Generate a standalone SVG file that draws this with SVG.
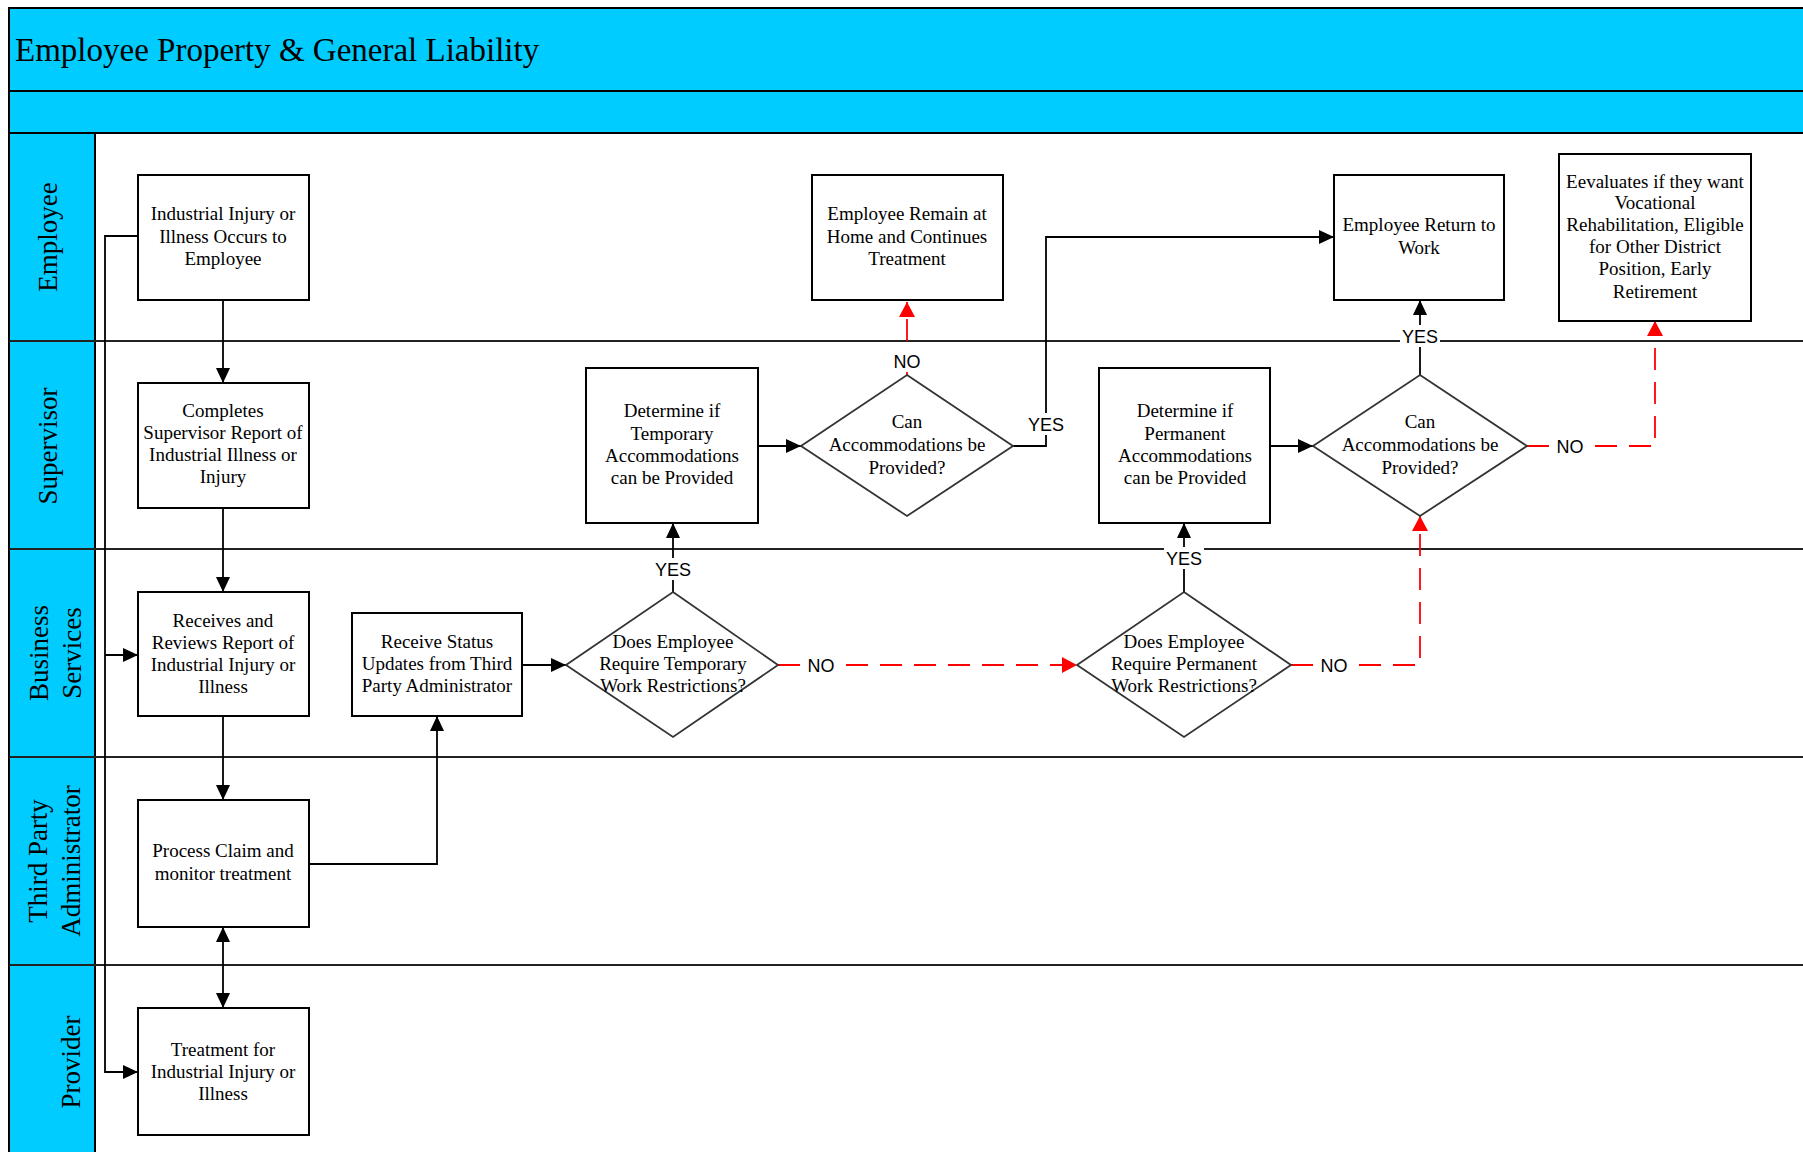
<svg xmlns="http://www.w3.org/2000/svg" width="1803" height="1152" viewBox="0 0 1803 1152">
  <style>
    .band { fill: #00CCFF; stroke: #000; stroke-width: 2; }
    .lane { stroke: #222; stroke-width: 2; fill: none; }
    .box { fill: #fff; stroke: #000; stroke-width: 2; }
    .dec { fill: #fff; stroke: #333; stroke-width: 1.8; }
    .t { font-family: "Liberation Serif", "Times New Roman", serif; font-size: 19px; fill: #000; text-anchor: middle; }
    .title { font-family: "Liberation Serif", "Times New Roman", serif; font-size: 33px; fill: #000; }
    .lanelbl { font-family: "Liberation Serif", "Times New Roman", serif; font-size: 27px; fill: #000; text-anchor: middle; }
    .flow { stroke: #000; stroke-width: 1.8; fill: none; }
    .neg { stroke: #FF0000; stroke-width: 1.8; fill: none; stroke-dasharray: 22 12; }
    .lbl { font-family: "Liberation Sans", Arial, sans-serif; font-size: 18px; fill: #000; text-anchor: middle; }
    .lblbg { fill: #fff; }
  </style>
  <defs>
    <marker id="arr" viewBox="0 0 15 14" refX="15" refY="7" markerWidth="15" markerHeight="14" markerUnits="userSpaceOnUse" orient="auto-start-reverse">
      <path d="M0,0 L15,7 L0,14 Z" fill="#000"/>
    </marker>
    <marker id="arrR" viewBox="0 0 15 16" refX="15" refY="8" markerWidth="15" markerHeight="16" markerUnits="userSpaceOnUse" orient="auto">
      <path d="M0,0 L15,8 L0,16 Z" fill="#FF0000"/>
    </marker>
  </defs>

  <rect width="1803" height="1152" fill="#fff"/>

  <!-- pool header bands -->
  <g id="pool">
    <rect class="band" x="9" y="8" width="1800" height="83"/>
    <rect class="band" x="9" y="91" width="1800" height="42"/>
    <text class="title" x="15" y="61">Employee Property &amp; General Liability</text>
  </g>

  <!-- swimlanes -->
  <g id="lanes">
    <rect class="band" x="9" y="133" width="86" height="1040"/>
    <line class="lane" x1="9" y1="341" x2="1803" y2="341"/>
    <line class="lane" x1="9" y1="549" x2="1803" y2="549"/>
    <line class="lane" x1="9" y1="757" x2="1803" y2="757"/>
    <line class="lane" x1="9" y1="965" x2="1803" y2="965"/>
    <text class="lanelbl" transform="translate(57,237) rotate(-90)">Employee</text>
    <text class="lanelbl" transform="translate(57,446) rotate(-90)">Supervisor</text>
    <text class="lanelbl" transform="translate(48,653) rotate(-90)">Business</text>
    <text class="lanelbl" transform="translate(81,653) rotate(-90)">Services</text>
    <text class="lanelbl" transform="translate(47,861) rotate(-90)">Third Party</text>
    <text class="lanelbl" transform="translate(80,861) rotate(-90)">Administrator</text>
    <text class="lanelbl" transform="translate(80,1062) rotate(-90)">Provider</text>
  </g>

  <!-- connectors -->
  <g id="connectors">
    <path class="flow" d="M223,300 V383" marker-end="url(#arr)"/>
    <path class="flow" d="M223,508 V592" marker-end="url(#arr)"/>
    <path class="flow" d="M223,716 V800" marker-end="url(#arr)"/>
    <path class="flow" d="M223,927 V1008" marker-start="url(#arr)" marker-end="url(#arr)"/>
    <path class="flow" d="M138,236 H105 V1072 H138" marker-end="url(#arr)"/>
    <path class="flow" d="M105,655 H138" marker-end="url(#arr)"/>
    <path class="flow" d="M309,864 H437 V716" marker-end="url(#arr)"/>
    <path class="flow" d="M522,665 H566" marker-end="url(#arr)"/>
    <path class="flow" d="M673,592 V523" marker-end="url(#arr)"/>
    <path class="flow" d="M758,446 H801" marker-end="url(#arr)"/>
    <path class="flow" d="M1013,446 H1046 V237 H1334" marker-end="url(#arr)"/>
    <path class="flow" d="M1184,592 V523" marker-end="url(#arr)"/>
    <path class="flow" d="M1270,446 H1313" marker-end="url(#arr)"/>
    <path class="flow" d="M1420,375 V300" marker-end="url(#arr)"/>
    <path class="neg" d="M907,375 V302" marker-end="url(#arrR)"/>
    <path class="neg" d="M778,665 H1077" marker-end="url(#arrR)"/>
    <path class="neg" d="M1291,665 H1420 V516" marker-end="url(#arrR)"/>
    <path class="neg" d="M1527,446 H1655 V321" marker-end="url(#arrR)"/>

    <rect class="lblbg" x="888" y="350" width="38" height="22"/>
    <text class="lbl" x="907" y="368">NO</text>
    <rect class="lblbg" x="1026" y="413" width="40" height="22"/>
    <text class="lbl" x="1046" y="431">YES</text>
    <rect class="lblbg" x="653" y="558" width="40" height="22"/>
    <text class="lbl" x="673" y="576">YES</text>
    <rect class="lblbg" x="802" y="654" width="38" height="22"/>
    <text class="lbl" x="821" y="672">NO</text>
    <rect class="lblbg" x="1164" y="547" width="40" height="22"/>
    <text class="lbl" x="1184" y="565">YES</text>
    <rect class="lblbg" x="1315" y="654" width="38" height="22"/>
    <text class="lbl" x="1334" y="672">NO</text>
    <rect class="lblbg" x="1400" y="325" width="40" height="22"/>
    <text class="lbl" x="1420" y="343">YES</text>
    <rect class="lblbg" x="1551" y="435" width="38" height="22"/>
    <text class="lbl" x="1570" y="453">NO</text>
  </g>

  <!-- process nodes -->
  <g id="n-injury">
    <rect class="box" x="138" y="175" width="171" height="125"/>
    <text class="t" x="223" y="220">Industrial Injury or</text>
    <text class="t" x="223" y="243">Illness Occurs to</text>
    <text class="t" x="223" y="265">Employee</text>
  </g>
  <g id="n-supervisor-report">
    <rect class="box" x="138" y="383" width="171" height="125"/>
    <text class="t" x="223" y="417">Completes</text>
    <text class="t" x="223" y="439">Supervisor Report of</text>
    <text class="t" x="223" y="461">Industrial Illness or</text>
    <text class="t" x="223" y="483">Injury</text>
  </g>
  <g id="n-review">
    <rect class="box" x="138" y="592" width="171" height="124"/>
    <text class="t" x="223" y="627">Receives and</text>
    <text class="t" x="223" y="649">Reviews Report of</text>
    <text class="t" x="223" y="671">Industrial Injury or</text>
    <text class="t" x="223" y="693">Illness</text>
  </g>
  <g id="n-status">
    <rect class="box" x="352" y="613" width="170" height="103"/>
    <text class="t" x="437" y="648">Receive Status</text>
    <text class="t" x="437" y="670">Updates from Third</text>
    <text class="t" x="437" y="692">Party Administrator</text>
  </g>
  <g id="n-claim">
    <rect class="box" x="138" y="800" width="171" height="127"/>
    <text class="t" x="223" y="857">Process Claim and</text>
    <text class="t" x="223" y="880">monitor treatment</text>
  </g>
  <g id="n-treatment">
    <rect class="box" x="138" y="1008" width="171" height="127"/>
    <text class="t" x="223" y="1056">Treatment for</text>
    <text class="t" x="223" y="1078">Industrial Injury or</text>
    <text class="t" x="223" y="1100">Illness</text>
  </g>
  <g id="n-temp-restrict">
    <polygon class="dec" points="673,592 778,665 673,737 566,665"/>
    <text class="t" x="673" y="648">Does Employee</text>
    <text class="t" x="673" y="670">Require Temporary</text>
    <text class="t" x="673" y="692">Work Restrictions?</text>
  </g>
  <g id="n-temp-determine">
    <rect class="box" x="586" y="368" width="172" height="155"/>
    <text class="t" x="672" y="417">Determine if</text>
    <text class="t" x="672" y="440">Temporary</text>
    <text class="t" x="672" y="462">Accommodations</text>
    <text class="t" x="672" y="484">can be Provided</text>
  </g>
  <g id="n-temp-can">
    <polygon class="dec" points="907,375 1013,446 907,516 801,446"/>
    <text class="t" x="907" y="428">Can</text>
    <text class="t" x="907" y="451">Accommodations be</text>
    <text class="t" x="907" y="474">Provided?</text>
  </g>
  <g id="n-remain-home">
    <rect class="box" x="812" y="175" width="191" height="125"/>
    <text class="t" x="907" y="220">Employee Remain at</text>
    <text class="t" x="907" y="243">Home and Continues</text>
    <text class="t" x="907" y="265">Treatment</text>
  </g>
  <g id="n-perm-restrict">
    <polygon class="dec" points="1184,592 1291,665 1184,737 1077,665"/>
    <text class="t" x="1184" y="648">Does Employee</text>
    <text class="t" x="1184" y="670">Require Permanent</text>
    <text class="t" x="1184" y="692">Work Restrictions?</text>
  </g>
  <g id="n-perm-determine">
    <rect class="box" x="1099" y="368" width="171" height="155"/>
    <text class="t" x="1185" y="417">Determine if</text>
    <text class="t" x="1185" y="440">Permanent</text>
    <text class="t" x="1185" y="462">Accommodations</text>
    <text class="t" x="1185" y="484">can be Provided</text>
  </g>
  <g id="n-perm-can">
    <polygon class="dec" points="1420,375 1527,446 1420,516 1313,446"/>
    <text class="t" x="1420" y="428">Can</text>
    <text class="t" x="1420" y="451">Accommodations be</text>
    <text class="t" x="1420" y="474">Provided?</text>
  </g>
  <g id="n-return-work">
    <rect class="box" x="1334" y="175" width="170" height="125"/>
    <text class="t" x="1419" y="231">Employee Return to</text>
    <text class="t" x="1419" y="254">Work</text>
  </g>
  <g id="n-evaluate">
    <rect class="box" x="1559" y="154" width="192" height="167"/>
    <text class="t" x="1655" y="188">Eevaluates if they want</text>
    <text class="t" x="1655" y="209">Vocational</text>
    <text class="t" x="1655" y="231">Rehabilitation, Eligible</text>
    <text class="t" x="1655" y="253">for Other District</text>
    <text class="t" x="1655" y="275">Position, Early</text>
    <text class="t" x="1655" y="298">Retirement</text>
  </g>
</svg>
